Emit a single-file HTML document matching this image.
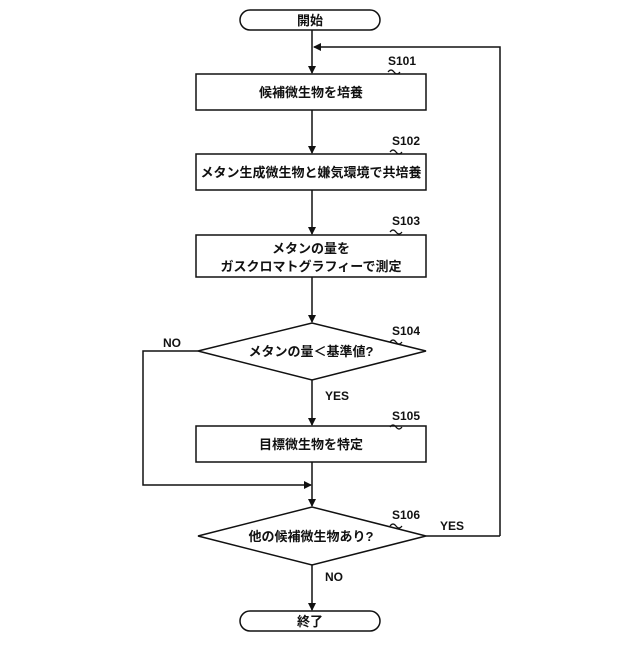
<!DOCTYPE html>
<html><head><meta charset="utf-8"><style>
body{margin:0;background:#fff}
svg text{font-family:"Liberation Sans","Noto Sans CJK JP",sans-serif;font-weight:bold;fill:#111}
</style></head><body>
<svg width="640" height="640" viewBox="0 0 640 640" xmlns="http://www.w3.org/2000/svg">
<defs><marker id="a" markerWidth="8" markerHeight="8" refX="7" refY="4" orient="auto" markerUnits="userSpaceOnUse"><path d="M0,0 L8,4 L0,8 z" fill="#111"/></marker></defs>
<g stroke="#111" stroke-width="1.5" fill="none">
<rect x="240" y="10" width="140" height="20" rx="10"/>
<rect x="240" y="611" width="140" height="20" rx="10"/>
<rect x="196" y="74" width="230" height="36"/>
<rect x="196" y="154" width="230" height="36"/>
<rect x="196" y="235" width="230" height="42"/>
<rect x="196" y="426" width="230" height="36"/>
<polygon points="198,351 312,323 426,351 312,380"/>
<polygon points="198,536 312,507 426,536 312,565"/>
<line x1="312" y1="30" x2="312" y2="73" marker-end="url(#a)"/>
<polyline points="500,536 500,47 314,47" marker-end="url(#a)"/>
<line x1="426" y1="536" x2="500" y2="536"/>
<line x1="312" y1="110" x2="312" y2="153" marker-end="url(#a)"/>
<line x1="312" y1="190" x2="312" y2="234" marker-end="url(#a)"/>
<line x1="312" y1="277" x2="312" y2="322" marker-end="url(#a)"/>
<line x1="312" y1="380" x2="312" y2="425" marker-end="url(#a)"/>
<line x1="312" y1="462" x2="312" y2="506" marker-end="url(#a)"/>
<polyline points="198,351 143,351 143,485 311,485" marker-end="url(#a)"/>
<line x1="312" y1="565" x2="312" y2="610" marker-end="url(#a)"/>
<path d="M388,72 q3,-4 6,0 t6,0 M390,152 q3,-4 6,0 t6,0 M390,232 q3,-4 6,0 t6,0 M390,342 q3,-4 6,0 t6,0 M390,427 q3,-4 6,0 t6,0 M390,526 q3,-4 6,0 t6,0" stroke-width="1.2"/>
</g>
<g font-size="13" text-anchor="middle">
<text x="310" y="25">開始</text>
<text x="310" y="626">終了</text>
<text x="311" y="97">候補微生物を培養</text>
<text x="311" y="177">メタン生成微生物と嫌気環境で共培養</text>
<text x="311" y="253">メタンの量を</text>
<text x="311" y="271">ガスクロマトグラフィーで測定</text>
<text x="311" y="356">メタンの量＜基準値?</text>
<text x="311" y="449">目標微生物を特定</text>
<text x="311" y="541">他の候補微生物あり?</text>
</g>
<g font-size="12">
<text x="388" y="65">S101</text>
<text x="392" y="145">S102</text>
<text x="392" y="225">S103</text>
<text x="392" y="335">S104</text>
<text x="392" y="420">S105</text>
<text x="392" y="519">S106</text>
<text x="163" y="347">NO</text>
<text x="325" y="400">YES</text>
<text x="440" y="530">YES</text>
<text x="325" y="581">NO</text>
</g>
</svg>
</body></html>
